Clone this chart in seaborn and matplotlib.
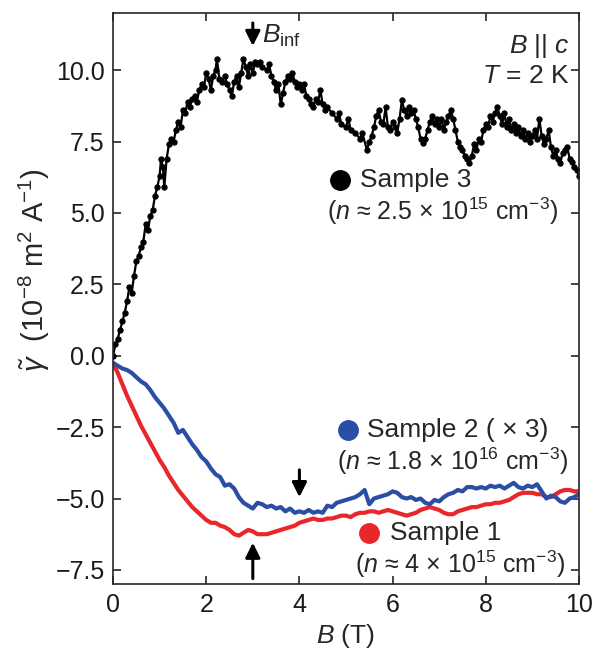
import pandas as pd
import numpy as np
import matplotlib
matplotlib.use('Agg')
import matplotlib.pyplot as plt
import seaborn as sns

# Sample 3 (black, dotted trace)
b3 = [0.0, 0.05, 0.1, 0.15, 0.2, 0.25, 0.3, 0.35, 0.4, 0.45, 0.5, 0.55, 0.6, 0.65, 0.7, 0.75, 0.8, 0.85, 0.9, 0.95,
      1.0, 1.03, 1.07, 1.1, 1.15, 1.2, 1.25, 1.3, 1.35, 1.4, 1.45, 1.5, 1.55, 1.6, 1.65, 1.7, 1.75, 1.8, 1.85, 1.9, 1.95,
      2.0, 2.05, 2.1, 2.15, 2.2, 2.23, 2.28, 2.33, 2.4, 2.45, 2.5, 2.55, 2.6, 2.65, 2.7, 2.75, 2.8, 2.85, 2.9, 2.95,
      3.0, 3.05, 3.1, 3.15, 3.2, 3.3, 3.35, 3.4, 3.45, 3.5, 3.55, 3.6, 3.65, 3.7, 3.75, 3.8, 3.85, 3.9, 3.95,
      4.0, 4.05, 4.1, 4.15, 4.2, 4.25, 4.3, 4.35, 4.4, 4.45, 4.5, 4.55, 4.6, 4.7, 4.8, 4.85, 4.9,
      5.0, 5.05, 5.1, 5.2, 5.3, 5.35, 5.45, 5.5, 5.55, 5.6, 5.65, 5.7, 5.75, 5.8, 5.85, 5.9, 5.95,
      6.0, 6.05, 6.1, 6.15, 6.2, 6.25, 6.3, 6.35, 6.4, 6.45, 6.5, 6.55, 6.6, 6.65, 6.7, 6.75, 6.8, 6.85, 6.9, 6.95,
      7.0, 7.05, 7.1, 7.15, 7.2, 7.25, 7.3, 7.35, 7.4, 7.45, 7.5, 7.55, 7.6, 7.65, 7.7, 7.75, 7.8, 7.85, 7.9, 7.95,
      8.0, 8.05, 8.1, 8.15, 8.2, 8.25, 8.3, 8.35, 8.4, 8.45, 8.5, 8.55, 8.6, 8.65, 8.7, 8.75, 8.8, 8.85, 8.9, 8.95,
      9.0, 9.05, 9.1, 9.15, 9.2, 9.25, 9.3, 9.35, 9.4, 9.45, 9.5, 9.55, 9.6, 9.65, 9.7, 9.75, 9.8, 9.85, 9.9, 9.95, 10.0]
g3 = [0.0, 0.4, 0.6, 0.9, 1.2, 1.5, 1.9, 2.4, 2.2, 2.8, 3.3, 3.5, 3.8, 4.0, 4.6, 4.4, 4.9, 5.1, 5.6, 5.9,
      6.3, 6.9, 6.6, 5.9, 6.9, 7.4, 7.6, 7.5, 7.9, 8.2, 8.0, 8.6, 8.5, 8.9, 8.7, 9.0, 9.1, 8.9, 9.3, 9.5, 9.4,
      9.9, 9.7, 9.3, 9.8, 10.0, 10.4, 9.7, 9.6, 9.8, 9.5, 9.3, 9.1, 9.6, 9.8, 9.4, 9.9, 10.4, 10.1, 9.8, 10.2,
      9.9, 10.3, 10.2, 10.3, 10.1, 10.0, 10.2, 9.8, 9.6, 9.3, 9.5, 8.8, 9.2, 9.6, 9.8, 9.7, 9.9, 9.6, 9.4,
      9.5, 9.3, 9.5, 9.1, 9.0, 8.8, 8.7, 9.0, 8.9, 9.3, 8.8, 8.6, 8.7, 8.5, 8.3, 8.5, 8.1,
      8.0, 8.3, 7.9, 7.8, 7.6, 7.8, 7.2, 7.5, 7.7, 8.0, 8.4, 8.6, 8.2, 8.1, 8.7, 8.0, 7.9,
      8.2, 8.0, 7.8, 8.3, 8.95, 8.6, 8.4, 8.7, 8.5, 8.6, 8.3, 8.0, 7.6, 7.45, 7.6, 7.9, 8.2, 8.4, 8.1, 8.3,
      8.0, 8.3, 7.9, 8.2, 8.4, 8.6, 8.3, 7.9, 7.5, 7.3, 7.2, 7.0, 6.9, 6.75, 7.0, 7.4, 7.2, 7.6, 7.5, 7.9,
      8.1, 8.0, 8.4, 8.2, 8.5, 8.7, 8.4, 8.1, 8.5, 8.0, 8.3, 7.9, 8.1, 7.8, 8.0, 7.7, 7.9, 7.6, 7.8, 7.5,
      7.7, 7.9, 7.6, 8.3, 7.7, 7.4, 7.6, 7.9, 7.3, 7.0, 7.2, 6.9, 6.75, 7.1, 7.2, 7.3, 6.9, 6.8, 6.6, 6.5, 6.3]

# Sample 2 (blue, x3) and Sample 1 (red), same field grid
b12 = [round(0.1 * i, 1) for i in range(101)]
g2 = [-0.25, -0.35, -0.45, -0.5, -0.6, -0.75, -0.9, -1.0, -1.2, -1.45,
      -1.65, -1.85, -2.1, -2.35, -2.7, -2.6, -2.85, -3.1, -3.3, -3.55,
      -3.7, -3.95, -4.15, -4.25, -4.55, -4.5, -4.65, -4.95, -5.15, -5.25,
      -5.35, -5.15, -5.2, -5.3, -5.25, -5.35, -5.3, -5.45, -5.35, -5.5,
      -5.45, -5.5, -5.4, -5.5, -5.45, -5.5, -5.25, -5.3, -5.15, -5.1,
      -5.05, -5.0, -4.95, -4.85, -4.7, -5.2, -5.0, -4.95, -4.9, -4.85,
      -4.75, -4.8, -4.95, -5.0, -4.95, -5.05, -5.0, -5.15, -5.2, -5.05,
      -5.1, -4.95, -4.85, -4.8, -4.7, -4.75, -4.6, -4.6, -4.65, -4.6,
      -4.65, -4.55, -4.6, -4.55, -4.65, -4.55, -4.45, -4.6, -4.65, -4.55,
      -4.6, -4.5, -4.75, -5.0, -4.9, -4.95, -5.1, -5.15, -5.0, -4.95, -4.85]
g1 = [-0.25, -0.6, -1.0, -1.4, -1.75, -2.1, -2.45, -2.75, -3.05, -3.35,
      -3.65, -3.9, -4.2, -4.45, -4.7, -4.9, -5.1, -5.3, -5.45, -5.6,
      -5.75, -5.85, -5.85, -5.95, -6.0, -6.1, -6.25, -6.3, -6.2, -6.1,
      -6.15, -6.25, -6.25, -6.25, -6.2, -6.15, -6.1, -6.05, -6.0, -5.95,
      -5.85, -5.8, -5.75, -5.7, -5.75, -5.75, -5.7, -5.7, -5.65, -5.6,
      -5.6, -5.65, -5.55, -5.5, -5.5, -5.45, -5.45, -5.5, -5.45, -5.4,
      -5.45, -5.5, -5.55, -5.6, -5.55, -5.5, -5.4, -5.35, -5.3, -5.35,
      -5.4, -5.5, -5.55, -5.55, -5.45, -5.4, -5.35, -5.3, -5.3, -5.25,
      -5.2, -5.2, -5.15, -5.15, -5.1, -5.05, -4.95, -4.85, -4.8, -4.8,
      -4.8, -4.85, -4.85, -4.95, -4.95, -4.85, -4.75, -4.7, -4.7, -4.75, -4.75]

red = '#e8262b'
blue = '#2a4ea6'

sns.set_style('ticks')
plt.rcParams['font.family'] = ['Liberation Sans', 'DejaVu Sans']
plt.rcParams['mathtext.fontset'] = 'custom'
plt.rcParams['mathtext.rm'] = 'Liberation Sans'
plt.rcParams['mathtext.it'] = 'Liberation Sans:italic'

fig = plt.figure(figsize=(5.95, 6.52), dpi=100)
ax = fig.add_axes([0.19, 0.104, 0.783, 0.876])

df12 = pd.DataFrame({'B': b12, 's1': g1, 's2': g2})
df3 = pd.DataFrame({'B': b3, 's3': g3})
sns.lineplot(data=df12, x='B', y='s1', color=red, lw=3, ax=ax, estimator=None, sort=False)
sns.lineplot(data=df12, x='B', y='s2', color=blue, lw=3, ax=ax, estimator=None, sort=False)
sns.lineplot(data=df3, x='B', y='s3', color='black', lw=1.6, marker='o', ms=3.8,
             mec='black', ax=ax, estimator=None, sort=False)

fs = 18
ax.set_xlim(0, 10)
ax.set_ylim(-8, 12)
ax.set_xticks([0, 2, 4, 6, 8, 10])
ax.set_yticks([-7.5, -5.0, -2.5, 0.0, 2.5, 5.0, 7.5, 10.0])
ax.set_yticklabels(['\u22127.5', '\u22125.0', '\u22122.5', '0.0', '2.5', '5.0', '7.5', '10.0'])
ax.tick_params(direction='in', length=6, width=1.2, labelsize=fs, top=True, right=True,
               labelcolor='#1a1a1a', pad=6)
for s in ax.spines.values():
    s.set_linewidth(1.2)
ax.set_xlabel('$B$ (T)', fontsize=fs + 1, labelpad=4)
ax.set_ylabel(r'$\tilde{\gamma}$  (10$^{-8}$ m$^{2}$ A$^{-1}$)', fontsize=21)
ax.yaxis.set_label_coords(-0.13, 0.55)

# arrows
ap = dict(arrowstyle='-|>', color='black', lw=2.2, mutation_scale=22)
ax.annotate('', xy=(3.0, 10.75), xytext=(3.0, 11.75), arrowprops=ap)
ax.annotate('', xy=(4.0, -5.05), xytext=(4.0, -3.9), arrowprops=ap)
ax.annotate('', xy=(3.0, -6.45), xytext=(3.0, -7.9), arrowprops=ap)
ax.text(3.2, 11.2, '$B_{\\mathrm{inf}}$', fontsize=fs + 1, va='center')

ax.text(9.8, 10.85, '$B$ || $c$', fontsize=fs + 1, ha='right', va='center')
ax.text(9.8, 9.8, '$T$ = 2 K', fontsize=fs + 1, ha='right', va='center')

# sample labels
ax.plot([4.87], [6.15], 'o', color='black', ms=14)
ax.text(5.3, 6.15, 'Sample 3', fontsize=fs + 1, va='center')
ax.text(4.6, 5.05, r'($n$ ≈ 2.5 × 10$^{15}$ cm$^{-3}$)', fontsize=fs, va='center')

ax.plot([5.04], [-2.6], 'o', color=blue, ms=14)
ax.text(5.45, -2.6, 'Sample 2 ( × 3)', fontsize=fs + 1, va='center')
ax.text(4.8, -3.7, r'($n$ ≈ 1.8 × 10$^{16}$ cm$^{-3}$)', fontsize=fs, va='center')

ax.plot([5.5], [-6.2], 'o', color=red, ms=14)
ax.text(5.95, -6.2, 'Sample 1', fontsize=fs + 1, va='center')
ax.text(5.2, -7.3, r'($n$ ≈ 4 × 10$^{15}$ cm$^{-3}$)', fontsize=fs, va='center')

fig.savefig('out.png', dpi=100)
